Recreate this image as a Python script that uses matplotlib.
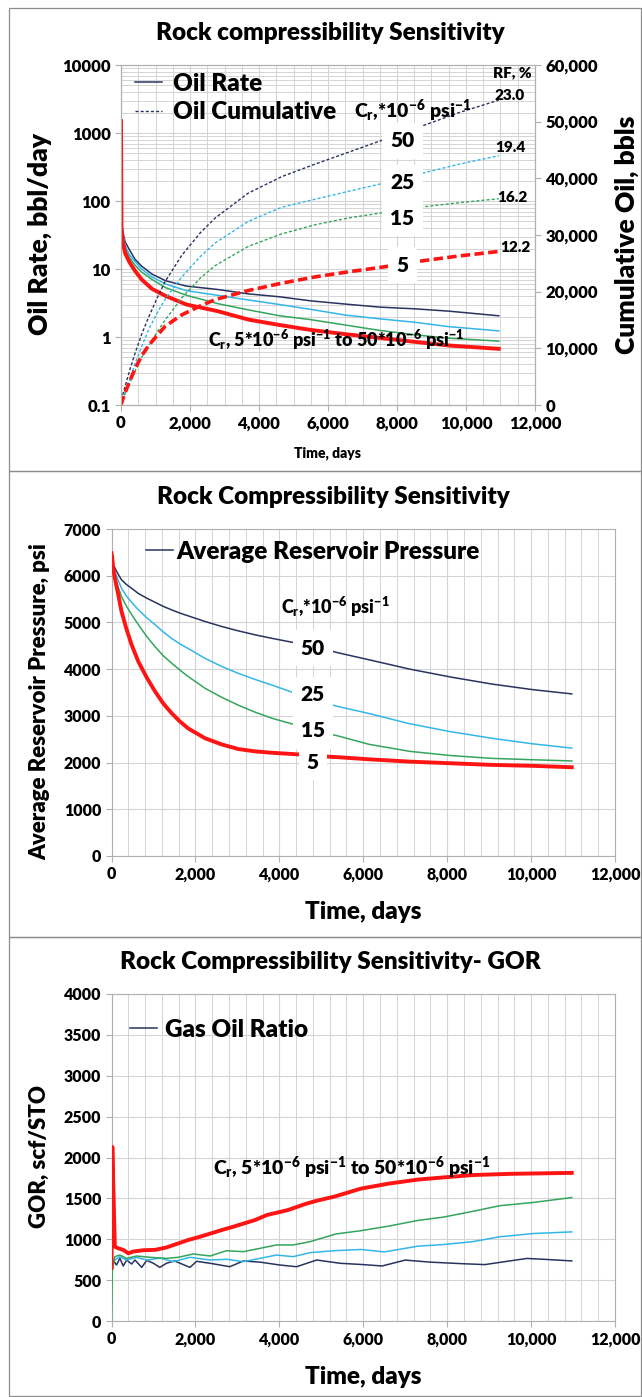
import matplotlib
matplotlib.use('Agg')
import matplotlib.pyplot as plt
from matplotlib.ticker import FuncFormatter, MultipleLocator, LogLocator, NullFormatter
from matplotlib.lines import Line2D
from matplotlib.patches import Rectangle

WEIGHT = 'heavy'
plt.rcParams['font.family'] = ['Lato', 'DejaVu Sans']
plt.rcParams['font.weight'] = WEIGHT
plt.rcParams['mathtext.fontset'] = 'custom'
plt.rcParams['mathtext.rm'] = 'Lato:heavy'
plt.rcParams['mathtext.it'] = 'Lato:heavy'
plt.rcParams['mathtext.bf'] = 'Lato:heavy'
plt.rcParams['mathtext.default'] = 'rm'

# rock compressibility cases, *10^-6 psi^-1
cases = ['50', '25', '15', '5']
colors = {'50': '#29335F', '25': '#33B6E8', '15': '#34A55C', '5': '#FF1414'}
widths = {'50': 1.1, '25': 1.1, '15': 1.1, '5': 2.8}

# oil rate, bbl/day
t_rate = [0, 15, 50, 120, 250, 400, 600, 900, 1300, 1900, 2800, 3700, 4600,
          5500, 6500, 7500, 8500, 9500, 10950]
rate = {
    '50': [1500, 55, 36, 25, 19, 14, 11, 8.4, 6.7, 5.6, 5.0, 4.3, 3.9, 3.4,
           3.05, 2.75, 2.6, 2.4, 2.05],
    '25': [1500, 50, 33, 22, 16, 13, 10, 7.6, 6.0, 4.8, 4.1, 3.5, 3.0, 2.55,
           2.1, 1.85, 1.65, 1.42, 1.23],
    '15': [1500, 46, 30, 20, 14.5, 11.5, 9.0, 7.0, 5.3, 4.1, 3.1, 2.5, 2.05,
           1.8, 1.5, 1.25, 1.08, 0.96, 0.87],
    '5': [1500, 40, 25, 17, 12.5, 9.5, 7.0, 5.1, 4.0, 3.0, 2.4, 1.8, 1.5,
          1.27, 1.1, 0.97, 0.85, 0.75, 0.67],
}

# cumulative oil, bbls
t_cum = [0, 50, 120, 260, 400, 600, 800, 1080, 1280, 1760, 2300, 2730, 3690,
         4660, 5620, 6590, 7650, 8800, 9800, 10950]
cum = {
    '50': [0, 1800, 3300, 6300, 9000, 12500, 15500, 19300, 21800, 26400,
           30400, 33000, 37400, 40300, 42500, 44600, 46900, 49400, 51600, 53800],
    '25': [0, 1200, 2300, 4600, 7200, 10300, 13300, 16600, 18700, 22600,
           26200, 28600, 32400, 34900, 36300, 37700, 39200, 41000, 42500, 44000],
    '15': [0, 1000, 2000, 4000, 5900, 8400, 10400, 13200, 15000, 18900,
           22400, 24600, 28000, 30200, 31800, 33000, 34000, 35000, 35700, 36400],
    '5': [0, 1000, 2200, 4300, 6300, 8700, 10500, 12500, 13900, 15900,
          17500, 18600, 20200, 21500, 22600, 23500, 24400, 25500, 26300, 27100],
}
rf = {'50': '23.0', '25': '19.4', '15': '16.2', '5': '12.2'}

# average reservoir pressure, psi
t_pres = [0, 15, 40, 80, 160, 240, 360, 480, 640, 840, 1040, 1230, 1430, 1630,
          1830, 2230, 2620, 3020, 3420, 3820, 4450, 5100, 5400, 6140, 7110,
          8090, 9070, 10050, 10970]
pres = {
    '50': [6300, 6270, 6230, 6170, 6030, 5910, 5810, 5730, 5620, 5520, 5430,
           5345, 5270, 5200, 5140, 5020, 4915, 4820, 4735, 4660, 4550, 4420,
           4350, 4200, 4000, 3830, 3680, 3560, 3470],
    '25': [6250, 6210, 6160, 6080, 5900, 5730, 5560, 5430, 5270, 5100, 4950,
           4800, 4660, 4540, 4440, 4230, 4060, 3910, 3780, 3660, 3460, 3270,
           3200, 3050, 2830, 2660, 2520, 2400, 2310],
    '15': [6200, 6150, 6090, 5980, 5750, 5550, 5340, 5170, 4950, 4700, 4480,
           4290, 4130, 3980, 3840, 3590, 3400, 3230, 3080, 2950, 2790, 2630,
           2570, 2390, 2240, 2150, 2090, 2060, 2035],
    '5': [6480, 6400, 6150, 5950, 5600, 5230, 4850, 4520, 4160, 3820, 3520,
          3270, 3060, 2880, 2730, 2520, 2390, 2290, 2240, 2210, 2175, 2130,
          2115, 2070, 2020, 1985, 1950, 1930, 1900],
}

# gas oil ratio, scf/STO
t_gor = {
    '50': [0, 20, 120, 200, 280, 360, 480, 560, 720, 840, 1000, 1150, 1310,
           1500, 1870, 2030, 2350, 2820, 3140, 3540, 4010, 4410, 4890, 5450,
           6000, 6450, 7000, 7600, 8400, 8900, 9400, 9900, 10300, 10970],
    '25': [0, 20, 80, 200, 360, 600, 840, 1150, 1470, 1870, 2350, 2750, 3140,
           3540, 3930, 4330, 4730, 5300, 5950, 6500, 7300, 7900, 8600, 9250,
           10050, 10970],
    '15': [0, 20, 80, 200, 360, 600, 920, 1310, 1600, 1950, 2350, 2740, 3140,
           3540, 3930, 4330, 4730, 5350, 5950, 6600, 7300, 7900, 8600, 9250,
           10050, 10970],
    '5': [0, 20, 80, 160, 280, 400, 520, 760, 1040, 1310, 1830, 2110, 2630,
          2900, 3420, 3700, 4210, 4610, 4890, 5300, 5950, 6600, 7300, 8000,
          8600, 9500, 10970],
}
gor = {
    '50': [620, 760, 685, 767, 673, 746, 697, 746, 656, 742, 706, 656, 706,
           735, 656, 730, 706, 664, 734, 720, 685, 664, 746, 706, 690, 673,
           745, 720, 700, 690, 728, 765, 755, 735],
    '25': [620, 740, 746, 787, 746, 779, 745, 770, 726, 779, 746, 755, 726,
           766, 807, 787, 836, 860, 875, 845, 915, 935, 970, 1030, 1070, 1090],
    '15': [0, 620, 787, 807, 766, 795, 779, 766, 780, 820, 795, 860, 848,
           889, 930, 930, 970, 1065, 1105, 1160, 1230, 1270, 1340, 1410,
           1450, 1510],
    '5': [650, 2130, 909, 889, 870, 828, 850, 866, 870, 900, 991, 1031, 1113,
          1153, 1235, 1296, 1358, 1430, 1471, 1520, 1620, 1680, 1730, 1760,
          1785, 1800, 1812],
}

W, H = 642, 1397
GRID = '#D4D4D4'
SPINE = '#B0B0B0'
TITLE_FS = 17.5
LEGEND_FS = 17.5

fig = plt.figure(figsize=(W / 100, H / 100), dpi=100)


def ax_px(left, top, right, bottom):
    return fig.add_axes([left / W, 1 - bottom / H, (right - left) / W, (bottom - top) / H])


def ftext(x, y, s, **kw):
    kw.setdefault('ha', 'center')
    kw.setdefault('va', 'center')
    kw.setdefault('fontweight', WEIGHT)
    return fig.text(x / W, 1 - y / H, s, **kw)


def style_time_axis(ax, minor_step, tick_fs):
    ax.set_xlim(0, 12000)
    ax.xaxis.set_major_locator(MultipleLocator(2000))
    ax.xaxis.set_minor_locator(MultipleLocator(minor_step))
    ax.xaxis.set_major_formatter(FuncFormatter(lambda v, p: f'{int(v):,}'))
    ax.grid(True, which='major', color=GRID, lw=0.8)
    ax.grid(True, which='minor', axis='x', color=GRID, lw=0.7)
    ax.set_axisbelow(True)
    for s in ax.spines.values():
        s.set_color(SPINE)
        s.set_linewidth(0.8)
    ax.tick_params(which='major', length=4, color=SPINE, labelsize=tick_fs)
    ax.tick_params(which='minor', length=0)


def value_labels(ax, x, ys):
    for c in cases:
        ax.text(x, ys[c], c, fontsize=15, fontweight=WEIGHT,
                ha='center', va='center', zorder=6,
                bbox=dict(boxstyle='square,pad=0.4', fc='white', ec='none'))


# panel frames
for top, bottom in [(8, 471), (471, 937), (937, 1396)]:
    fig.add_artist(Rectangle((9 / W, 1 - bottom / H), 632 / W, (bottom - top) / H,
                             transform=fig.transFigure, fill=False,
                             ec='#8C8C8C', lw=0.9))

# ---- oil rate & cumulative ----
ax1 = ax_px(121, 65, 535, 405)
ax1.set_yscale('log')
ax1.set_ylim(0.1, 10000)
style_time_axis(ax1, 500, 12)
ax1.yaxis.set_major_locator(LogLocator(base=10))
ax1.yaxis.set_minor_locator(LogLocator(base=10, subs=range(2, 10)))
ax1.yaxis.set_major_formatter(FuncFormatter(lambda v, p: f'{v:g}'))
ax1.yaxis.set_minor_formatter(NullFormatter())
ax1.grid(True, which='minor', axis='y', color=GRID, lw=0.7)
for c in cases:
    ax1.plot(t_rate, rate[c], color=colors[c], lw=widths[c], zorder=3)
ax1.plot([0, 0], [0.1, 1500], color='#8B2252', lw=1.2, zorder=4)

ax2 = ax1.twinx()
ax2.set_ylim(0, 60000)
ax2.yaxis.set_major_locator(MultipleLocator(10000))
ax2.yaxis.set_major_formatter(FuncFormatter(lambda v, p: f'{int(v):,}'))
ax2.tick_params(length=4, color=SPINE, labelsize=12)
for s in ax2.spines.values():
    s.set_color(SPINE)
    s.set_linewidth(0.8)
for c in cases:
    if c == '5':
        ax2.plot(t_cum, cum[c], color=colors[c], lw=2.6, ls=(0, (2.6, 1.2)))
    else:
        ax2.plot(t_cum, cum[c], color=colors[c], lw=1.0, ls=(0, (2.2, 1.5)))
value_labels(ax2, 8150, {'50': 46600, '25': 39200, '15': 33000, '5': 24700})

ftext(330, 33, 'Rock compressibility Sensitivity', fontsize=TITLE_FS)
ftext(40, 234, 'Oil Rate, bbl/day', fontsize=19, rotation=90)
ftext(627, 235, 'Cumulative Oil, bbls', fontsize=19, rotation=90)
ftext(328, 453, 'Time, days', fontsize=10)
ftext(512, 73, 'RF, %', fontsize=11)
rf_pos = {'50': (510, 95), '25': (510, 148), '15': (512, 197), '5': (515, 248)}
for c in cases:
    ftext(*rf_pos[c], rf[c], fontsize=11)
ftext(413, 111, r'C$_r$,*10$^{-6}$ psi$^{-1}$', fontsize=14)
ftext(336, 340, r'C$_r$, 5*10$^{-6}$ psi$^{-1}$ to 50*10$^{-6}$ psi$^{-1}$', fontsize=13)
ax1.legend([Line2D([], [], color=colors['50'], lw=1.1),
            Line2D([], [], color=colors['50'], lw=1.0, ls=(0, (2.2, 1.5)))],
           ['Oil Rate', 'Oil Cumulative'], loc='upper left',
           bbox_to_anchor=(135 / W, 1 - 73 / H), bbox_transform=fig.transFigure,
           frameon=False, handlelength=1.1, handletextpad=0.45,
           labelspacing=0.25, borderpad=0, borderaxespad=0,
           prop={'weight': WEIGHT, 'size': LEGEND_FS})

# ---- average reservoir pressure ----
ax3 = ax_px(111.5, 529, 615, 856)
style_time_axis(ax3, 400, 11.5)
ax3.set_ylim(0, 7000)
ax3.yaxis.set_major_locator(MultipleLocator(1000))
for c in cases:
    ax3.plot(t_pres, pres[c], color=colors[c], lw=widths[c], zorder=3)
value_labels(ax3, 4800, {'50': 4450, '25': 3450, '15': 2680, '5': 2000})
ftext(333, 497, 'Rock Compressibility Sensitivity', fontsize=TITLE_FS)
ftext(40, 702, 'Average Reservoir Pressure, psi', fontsize=16, rotation=90)
ftext(363, 912, 'Time, days', fontsize=17.5)
ftext(335, 607, r'C$_r$,*10$^{-6}$ psi$^{-1}$', fontsize=13)
ax3.legend([Line2D([], [], color=colors['50'], lw=1.1)],
           ['Average Reservoir Pressure'], loc='center left',
           bbox_to_anchor=(146 / W, 1 - 552 / H), bbox_transform=fig.transFigure,
           frameon=False, handlelength=1.1, handletextpad=0.15,
           borderpad=0, borderaxespad=0, prop={'weight': WEIGHT, 'size': LEGEND_FS})

# ---- gas oil ratio ----
ax4 = ax_px(111.5, 994, 615, 1321)
style_time_axis(ax4, 400, 11.5)
ax4.set_ylim(0, 4000)
ax4.yaxis.set_major_locator(MultipleLocator(500))
for c in cases:
    ax4.plot(t_gor[c], gor[c], color=colors[c], lw=widths[c], zorder=3)
ftext(330, 962, 'Rock Compressibility Sensitivity- GOR', fontsize=TITLE_FS)
ftext(39, 1157, 'GOR, scf/STO', fontsize=16, rotation=90)
ftext(363, 1377, 'Time, days', fontsize=17.5)
ftext(352, 1168, r'C$_r$, 5*10$^{-6}$ psi$^{-1}$ to 50*10$^{-6}$ psi$^{-1}$', fontsize=14)
ax4.legend([Line2D([], [], color=colors['50'], lw=1.1)],
           ['Gas Oil Ratio'], loc='center left',
           bbox_to_anchor=(130 / W, 1 - 1030 / H), bbox_transform=fig.transFigure,
           frameon=False, handlelength=1.1, handletextpad=0.35,
           borderpad=0, borderaxespad=0, prop={'weight': WEIGHT, 'size': LEGEND_FS})

fig.savefig('out.png', dpi=100, facecolor='white')
